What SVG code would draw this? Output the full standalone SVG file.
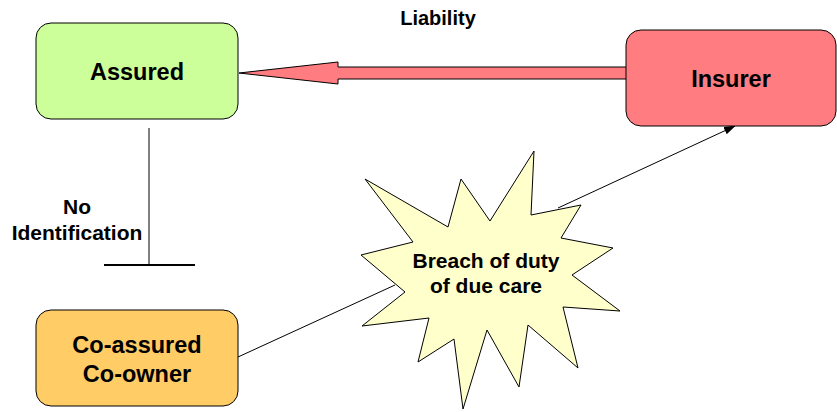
<svg xmlns="http://www.w3.org/2000/svg" width="837" height="412" viewBox="0 0 837 412">
<defs>
<style>
.box{stroke:#000;stroke-width:1}
.lbl{font-family:"Liberation Sans",Arial,sans-serif;font-weight:bold;fill:#000;text-anchor:middle}
.ln{stroke:#000;stroke-width:1;fill:none}
</style>
<marker id="ah" markerWidth="12" markerHeight="10" refX="11" refY="5" orient="auto" markerUnits="userSpaceOnUse">
<path d="M0,1 L12,5 L0,9 Z" fill="#000"/>
</marker>
</defs>
<rect width="837" height="412" fill="#fff"/>
<g id="connectors">
<line class="ln" x1="238" y1="357" x2="395" y2="285"/>
<line class="ln" x1="558" y1="208" x2="735" y2="126" marker-end="url(#ah)"/>
<line class="ln" x1="149" y1="128" x2="149" y2="265"/>
<line x1="104" y1="265" x2="195" y2="265" stroke="#000" stroke-width="2"/>
<polygon points="239,73 338,62 338,67 628,67 628,79 338,79 338,84" fill="#FF7C80" stroke="#000" stroke-width="1"/>
<text class="lbl" x="438" y="25" font-size="20">Liability</text>
<text class="lbl" x="77" y="214" font-size="21">No</text>
<text class="lbl" x="77" y="240" font-size="21">Identification</text>
</g>
<g id="assured">
<rect class="box" x="36" y="23" width="202" height="96" rx="15" fill="#CCFF99"/>
<text class="lbl" x="137" y="80" font-size="23.5">Assured</text>
</g>
<g id="insurer">
<rect class="box" x="626" y="30" width="210" height="96" rx="15" fill="#FF7C80"/>
<text class="lbl" x="731" y="87" font-size="23.5">Insurer</text>
</g>
<g id="coassured">
<rect class="box" x="36" y="310" width="202" height="96" rx="15" fill="#FFCC66"/>
<text class="lbl" x="137" y="353" font-size="23.5">Co-assured</text>
<text class="lbl" x="137" y="382" font-size="23.5">Co-owner</text>
</g>
<g id="breach">
<polygon class="box" fill="#FFFFCC" points="534,151 531,215 581,205 561,238 613,248 572,275 620,311 563,307 578,368 528,325 519,387 487,330 463,409 454,339 418,362 429,318 362,326 405,292 361,255 413,242 365,179 448,227 461,179 490,221"/>
<text class="lbl" x="486" y="268" font-size="21">Breach of duty</text>
<text class="lbl" x="486" y="293" font-size="21">of due care</text>
</g>
</svg>
